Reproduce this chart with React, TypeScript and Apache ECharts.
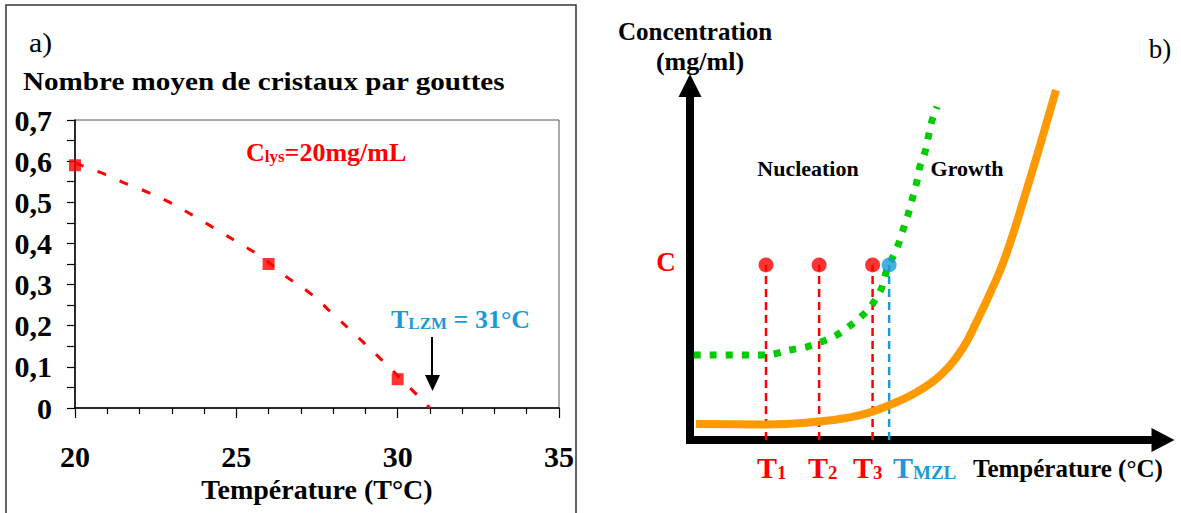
import React, { useEffect, useRef } from 'react';
import * as echarts from 'echarts';

const FONT = "'Liberation Serif', 'Times New Roman', serif";
const RED = '#FF0000';
const BLUE = '#1A9BD7';
const GREEN = '#00CC00';
const ORANGE = '#FF9900';

// ---- Panel a: mean number of crystals per drop ----
const measuredTemps = [20, 26, 30];
const crystalsPerDrop = [0.59, 0.35, 0.07];
const trendTemps = [20, 20.8, 21.5, 22.3, 23, 23.7, 24.4, 25.1, 25.8, 26.5, 27.3, 28, 28.7, 29.4, 30.2, 31];
const trendValues = [0.595, 0.572, 0.548, 0.523, 0.497, 0.466, 0.433, 0.4, 0.366, 0.322, 0.278, 0.228, 0.177, 0.125, 0.063, 0];

// ---- Panel b: schematic phase diagram ----
const solubilityT = [1.27, 16.07, 27.27, 33.83, 38.05, 42.28, 47.15, 51.37, 54.55, 57.72, 60.68, 63.85, 66.81, 71.25, 74.63, 77.38];
const solubilityC = [4.51, 4.4, 5.2, 6.4, 7.8, 9.9, 12.9, 16.5, 20.4, 26.0, 33.6, 42.6, 52.2, 70.9, 86.0, 98.7];
const limitT = [0.8, 16.07, 21.1, 24.7, 27.8, 31.0, 33.8, 36.6, 38.7, 40.5, 41.6, 42.6, 44.0, 45.1, 46.2, 47.0, 47.9, 48.6, 49.7, 50.4, 51.1, 52.2];
const limitC = [24.0, 24.0, 25.4, 26.3, 27.7, 29.6, 32.2, 35.3, 38.6, 42.8, 48.0, 50.8, 55.0, 59.5, 64.0, 68.0, 72.5, 77.1, 81.3, 85.6, 89.8, 94.0];
const nucleationT = [16.07, 27.3, 38.6];
const nucleationLabels = ['1', '2', '3'];
const mzlT = 42.1;
const concentrationC = 49.4;

const fmtComma = (v: number) => (v === 0 ? '0' : v.toFixed(1).replace('.', ','));

export default function App() {
  const ref = useRef<HTMLDivElement>(null);

  useEffect(() => {
    if (!ref.current) return;
    const chart = echarts.init(ref.current, undefined, { renderer: 'svg' });

    const txt = (x: number, y: number, text: string, size: number, extra: any = {}, el: any = {}) => ({
      type: 'text',
      x,
      y,
      ...el,
      style: {
        text,
        fontSize: size,
        fontFamily: FONT,
        fontWeight: 'bold',
        fill: '#000',
        align: 'left',
        verticalAlign: 'middle',
        ...extra,
      },
    });

    const richLabel = (x: number, y: number, main: string, sub: string, color: string, size: number, subSize: number, tail = '') => ({
      type: 'text',
      x,
      y,
      style: {
        text: `{m|${main}}{s|${sub}}` + (tail ? `{m|${tail}}` : ''),
        fill: color,
        align: 'left',
        verticalAlign: 'middle',
        rich: {
          m: { fontSize: size, fontWeight: 'bold', fontFamily: FONT, fill: color },
          s: { fontSize: subSize, fontWeight: 'bold', fontFamily: FONT, fill: color, padding: [Math.round(size * 0.35), 0, 0, 0] },
        },
      },
    });

    const option: any = {
      animation: false,
      backgroundColor: '#fff',
      grid: [
        { left: 75, top: 120, right: 622, bottom: 105, show: true, borderColor: '#555', borderWidth: 1 },
        { left: 690, top: 85.5, right: 18, bottom: 73 },
      ],
      xAxis: [
        {
          gridIndex: 0,
          type: 'value',
          min: 20,
          max: 35,
          interval: 5,
          axisLine: { show: true, onZero: false, lineStyle: { color: '#000', width: 1.5 } },
          axisTick: { show: true, length: 10, lineStyle: { color: '#000', width: 1.2 } },
          minorTick: { show: true, splitNumber: 5, length: 6, lineStyle: { color: '#000', width: 1.2 } },
          splitLine: { show: false },
          axisLabel: { margin: 33, fontSize: 30, fontWeight: 'bold', fontFamily: FONT, color: '#000' },
          name: 'Température (T°C)',
          nameLocation: 'middle',
          nameGap: 65,
          nameTextStyle: { fontSize: 28, fontWeight: 'bold', fontFamily: FONT, color: '#000' },
        },
        {
          gridIndex: 1,
          type: 'value',
          min: 0,
          max: 100,
          axisLine: { show: true, symbol: ['none', 'triangle'], symbolSize: [24, 23], lineStyle: { color: '#000', width: 8, cap: 'square' } },
          axisTick: { show: false },
          axisLabel: { show: false },
          splitLine: { show: false },
        },
      ],
      yAxis: [
        {
          gridIndex: 0,
          type: 'value',
          min: 0,
          max: 0.7,
          interval: 0.1,
          axisLine: { show: true, onZero: false, lineStyle: { color: '#000', width: 1.5 } },
          axisTick: { show: true, length: 8, lineStyle: { color: '#000', width: 1.2 } },
          minorTick: { show: true, splitNumber: 2, length: 8, lineStyle: { color: '#000', width: 1.2 } },
          splitLine: { show: false },
          axisLabel: { margin: 23, fontSize: 30, fontWeight: 'bold', fontFamily: FONT, color: '#000', formatter: fmtComma },
        },
        {
          gridIndex: 1,
          type: 'value',
          min: 0,
          max: 100,
          axisLine: { show: true, symbol: ['none', 'triangle'], symbolSize: [23, 23], lineStyle: { color: '#000', width: 8, cap: 'square' } },
          axisTick: { show: false },
          axisLabel: { show: false },
          splitLine: { show: false },
        },
      ],
      series: [
        {
          type: 'line',
          xAxisIndex: 0,
          yAxisIndex: 0,
          data: trendTemps.map((t, i) => [t, trendValues[i]]),
          smooth: true,
          showSymbol: false,
          lineStyle: { color: RED, width: 3, type: [9, 15] },
          z: 2,
        },
        {
          type: 'scatter',
          xAxisIndex: 0,
          yAxisIndex: 0,
          data: measuredTemps.map((t, i) => [t, crystalsPerDrop[i]]),
          symbol: 'rect',
          symbolSize: 12,
          itemStyle: { color: RED },
          z: 3,
        },
        ...nucleationT.map((t) => ({
          type: 'line',
          xAxisIndex: 1,
          yAxisIndex: 1,
          data: [[t, 0], [t, concentrationC]],
          showSymbol: false,
          lineStyle: { color: RED, width: 2.5, type: [8, 5] },
          z: 1,
        })),
        {
          type: 'line',
          xAxisIndex: 1,
          yAxisIndex: 1,
          data: [[mzlT, 0], [mzlT, concentrationC]],
          showSymbol: false,
          lineStyle: { color: BLUE, width: 2.5, type: [8, 5] },
          z: 1,
        },
        {
          type: 'line',
          xAxisIndex: 1,
          yAxisIndex: 1,
          data: solubilityT.map((t, i) => [t, solubilityC[i]]),
          smooth: 0.5,
          showSymbol: false,
          lineStyle: { color: ORANGE, width: 8 },
          z: 2,
        },
        {
          type: 'line',
          xAxisIndex: 1,
          yAxisIndex: 1,
          data: limitT.map((t, i) => [t, limitC[i]]),
          smooth: 0.3,
          showSymbol: false,
          lineStyle: { color: GREEN, width: 7, type: [7, 9], cap: 'butt' },
          z: 3,
        },
        {
          type: 'scatter',
          xAxisIndex: 1,
          yAxisIndex: 1,
          data: nucleationT.map((t) => [t, concentrationC]),
          symbolSize: 15,
          itemStyle: { color: RED },
          z: 4,
        },
        {
          type: 'scatter',
          xAxisIndex: 1,
          yAxisIndex: 1,
          data: [[mzlT, concentrationC]],
          symbolSize: 15,
          itemStyle: { color: BLUE },
          z: 5,
        },
      ],
      graphic: [
        { type: 'rect', shape: { x: 6, y: 5, width: 570, height: 520 }, style: { fill: 'none', stroke: '#333', lineWidth: 1.5 }, silent: true },
        txt(29, 43, 'a)', 27, { fontWeight: 'normal' }, { scaleX: 1.1 }),
        txt(23, 81, 'Nombre moyen de cristaux par gouttes', 26, {}, { scaleX: 1.12 }),
        richLabel(246, 152, 'C', 'lys', RED, 26, 17, '=20mg/mL'),
        richLabel(391, 319, 'T', 'LZM', BLUE, 26, 17, ' = 31°C'),
        { type: 'line', shape: { x1: 432, y1: 337, x2: 432, y2: 378 }, style: { stroke: '#000', lineWidth: 2 } },
        { type: 'polygon', shape: { points: [[425, 375], [440, 375], [432.5, 391]] }, style: { fill: '#000' } },
        // panel b texts
        txt(695, 31, 'Concentration', 25, { align: 'center' }),
        txt(700, 61, '(mg/ml)', 26, { align: 'center' }),
        txt(1160, 49, 'b)', 27, { align: 'center', fontWeight: 'normal' }),
        txt(808, 168, 'Nucleation', 22, { align: 'center' }),
        txt(967, 168, 'Growth', 22, { align: 'center' }),
        txt(666, 262, 'C', 27, { align: 'center', fill: RED }),
        ...nucleationLabels.map((s, i) => richLabel([757, 808, 853][i], 467, 'T', s, RED, 30, 19)),
        richLabel(893, 467, 'T', 'MZL', BLUE, 30, 19),
        txt(973, 468, 'Température (°C)', 25),
      ],
    };

    chart.setOption(option);
    return () => chart.dispose();
  }, []);

  return <div ref={ref} style={{ position: 'absolute', left: 0, top: 0, width: 1181, height: 513, background: '#fff' }} />;
}
